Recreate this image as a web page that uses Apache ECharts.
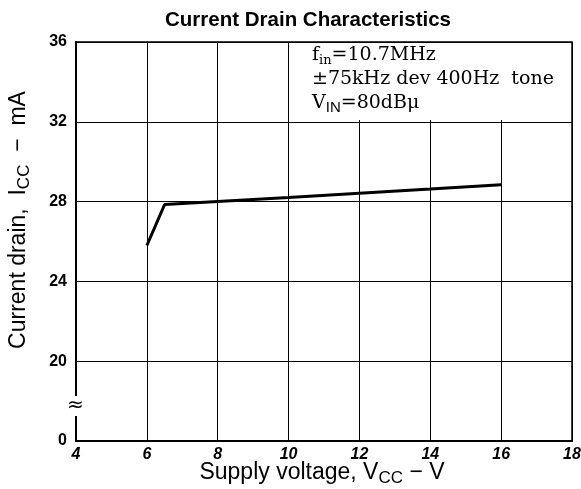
<!DOCTYPE html>
<html>
<head>
<meta charset="utf-8">
<script src="https://cdn.jsdelivr.net/npm/echarts@6/dist/echarts.min.js"></script>
<style>
html, body { margin: 0; padding: 0; background: #fff; }
#chart { width: 581px; height: 489px; }
</style>
</head>
<body>
<div id="chart"></div>
<script>
// supply voltage (V) and current drain (mA)
var vcc = [6, 6.5, 8, 10, 12, 14, 16];
var icc = [25.8, 27.85, 28.0, 28.2, 28.42, 28.63, 28.85];
// y axis has a break: the bottom tick "0" stands where 16 would be
var yBreakValue = 16;
var noteLines = ['{t|f}{s|in}{t|=10.7MHz}', '{t|±75kHz dev 400Hz  tone}', '{t|V}{s2|IN}{t|=80dBμ}'];

var data = [];
for (var i = 0; i < vcc.length; i++) data.push([vcc[i], icc[i]]);

var nameRich = {
    a: { fontFamily: 'Liberation Sans', fontSize: 23, color: '#000' },
    b: { fontFamily: 'Liberation Sans', fontSize: 17, color: '#000', verticalAlign: 'bottom', padding: [11, 0, 0, 0] }
};

var myChart = echarts.init(document.getElementById('chart'));
var option = {
    animation: false,
    title: {
        text: 'Current Drain Characteristics',
        left: 303, top: 5, textAlign: 'center',
        textStyle: { fontFamily: 'Liberation Sans', fontWeight: 'bold', fontSize: 20.5, color: '#000' }
    },
    grid: { left: 76, right: 9, top: 42, bottom: 48, outerBoundsMode: 'none', containLabel: false,
        show: true, borderColor: '#000', borderWidth: 1.5 },
    xAxis: {
        type: 'value', min: 4, max: 18, interval: 2,
        axisLine: { lineStyle: { color: '#000', width: 2 } },
        axisTick: { show: false },
        axisLabel: { margin: 6, fontFamily: 'Liberation Sans', fontWeight: 'bold', fontStyle: 'italic', fontSize: 16, color: '#000' },
        splitLine: { lineStyle: { color: '#000', width: 1 } }
    },
    yAxis: {
        type: 'value', min: yBreakValue, max: 36, interval: 4,
        axisLine: { show: true, lineStyle: { color: '#000', width: 2 } },
        axisTick: { show: false },
        axisLabel: {
            margin: 9, fontFamily: 'Liberation Sans', fontWeight: 'bold', fontSize: 16, color: '#000',
            formatter: function (v) { return v === yBreakValue ? '0' : String(v); }
        },
        splitLine: { lineStyle: { color: '#000', width: 1 } }
    },
    graphic: [
        // white box for the test conditions, covers gridlines behind it
        { type: 'rect', z: 5, shape: { x: 290, y: 43, width: 281, height: 77 }, style: { fill: '#fff' } },
        { type: 'text', z: 6, left: 312, top: 43, style: { text: noteLines.join('\n'), lineHeight: 24,
            rich: {
                t: { fontFamily: 'DejaVu Serif', fontSize: 19, color: '#000', lineHeight: 24 },
                s: { fontFamily: 'DejaVu Serif', fontSize: 13, color: '#000', verticalAlign: 'bottom', padding: [10, 0, 0, 0], lineHeight: 24 },
                s2: { fontFamily: 'Liberation Sans', fontSize: 15, color: '#000', verticalAlign: 'bottom', padding: [8, 0, 0, 0], lineHeight: 24 }
            } } },
        // axis names
        { type: 'text', z: 6, x: 322, y: 473,
            style: { text: '{a|Supply voltage, V}{b|CC}{a| − V}', rich: nameRich, align: 'center', verticalAlign: 'middle' } },
        { type: 'text', z: 6, x: 19, y: 220, rotation: Math.PI / 2,
            style: { text: '{a|Current drain,  I}{b|CC}{a|  −  mA}', rich: nameRich, align: 'center', verticalAlign: 'middle' } },
        // axis break mark
        { type: 'text', z: 6, left: 67, top: 396, style: { text: '≈', fontFamily: 'DejaVu Sans', fontSize: 20, fill: '#000', backgroundColor: '#fff' } }
    ],
    series: [{
        type: 'line', z: 10,
        data: data,
        symbol: 'none',
        lineStyle: { color: '#000', width: 3 }
    }]
};
myChart.setOption(option);
</script>
</body>
</html>
